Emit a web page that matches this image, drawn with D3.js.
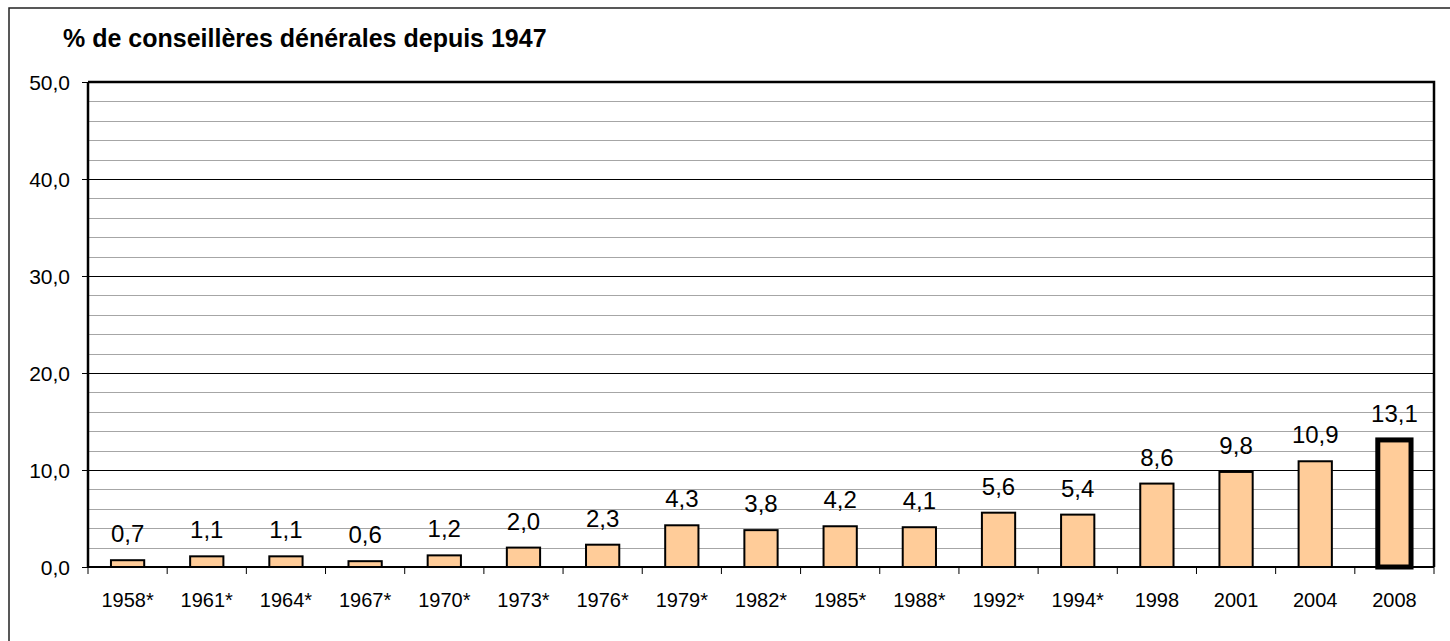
<!DOCTYPE html>
<html lang="fr">
<head>
    <meta charset="UTF-8">
    <title>Conseillères générales</title>
    <script src="https://d3js.org/d3.v7.min.js"></script>
    <style>
        body { margin: 0; background: #fff; }
        text { font-family: "Liberation Sans", Arial, sans-serif; fill: #000; }
    </style>
</head>
<body>
    <div id="chart"></div>
    <script>
        // data
        var years = ["1958*", "1961*", "1964*", "1967*", "1970*", "1973*", "1976*", "1979*", "1982*",
                     "1985*", "1988*", "1992*", "1994*", "1998", "2001", "2004", "2008"];
        var values = [0.7, 1.1, 1.1, 0.6, 1.2, 2.0, 2.3, 4.3, 3.8, 4.2, 4.1, 5.6, 5.4, 8.6, 9.8, 10.9, 13.1];
        var majorTicks = [0, 10, 20, 30, 40, 50];
        var minorTicks = [2, 4, 6, 8, 12, 14, 16, 18, 22, 24, 26, 28, 32, 34, 36, 38, 42, 44, 46, 48];
        var title = "% de conseillères dénérales depuis 1947";

        var W = 1450, H = 641;
        var margin = { top: 82, right: 16, bottom: 74, left: 88 };
        var width = W - margin.left - margin.right;
        var height = H - margin.top - margin.bottom;

        var fr = d3.formatLocale({ decimal: ",", thousands: " ", grouping: [3], currency: ["", " €"] });
        var fmt = fr.format(".1f");

        var svg = d3.select("#chart").append("svg")
            .attr("width", W)
            .attr("height", H);

        // outer frame (runs off the right and bottom edges)
        svg.append("rect")
            .attr("x", 9).attr("y", 8)
            .attr("width", W).attr("height", H)
            .attr("fill", "none")
            .attr("stroke", "#222")
            .attr("stroke-width", 1.5);

        svg.append("text")
            .attr("x", 63)
            .attr("y", 47)
            .style("font-size", "25px")
            .style("font-weight", "bold")
            .text(title);

        var g = svg.append("g")
            .attr("transform", "translate(" + margin.left + "," + margin.top + ")");

        var x = d3.scaleBand()
            .domain(years)
            .range([0, width])
            .paddingInner(0.58)
            .paddingOuter(0.29);

        var y = d3.scaleLinear()
            .domain([0, 50])
            .range([height, 0]);

        // gridlines
        g.append("g").selectAll("line").data(minorTicks).enter().append("line")
            .attr("x1", 0).attr("x2", width)
            .attr("y1", function (d) { return Math.round(y(d)) + 0.5; })
            .attr("y2", function (d) { return Math.round(y(d)) + 0.5; })
            .attr("stroke", "#a6a6a6")
            .attr("stroke-width", 1);
        g.append("g").selectAll("line").data(majorTicks.slice(1, 5)).enter().append("line")
            .attr("x1", 0).attr("x2", width)
            .attr("y1", function (d) { return Math.round(y(d)) + 0.5; })
            .attr("y2", function (d) { return Math.round(y(d)) + 0.5; })
            .attr("stroke", "#000")
            .attr("stroke-width", 1);

        // plot border top + right
        g.append("path")
            .attr("d", "M0," + y(50) + "H" + width + "V" + height)
            .attr("fill", "none")
            .attr("stroke", "#000")
            .attr("stroke-width", 2.5);

        // y axis
        var yAxis = g.append("g")
            .call(d3.axisLeft(y).tickValues(majorTicks).tickSize(6).tickFormat(fmt));
        yAxis.select(".domain").attr("stroke-width", 2.5).attr("d", "M0," + height + "V" + y(50));
        yAxis.selectAll(".tick line").attr("stroke-width", 1);
        yAxis.selectAll(".tick text")
            .attr("x", -18)
            .attr("dy", "0.36em")
            .style("font-size", "21px")
            .style("font-family", "'Liberation Sans', Arial, sans-serif");

        // bars
        g.append("g").selectAll("rect").data(values).enter().append("rect")
            .attr("x", function (d, i) { return x(years[i]); })
            .attr("y", function (d) { return y(d); })
            .attr("width", x.bandwidth())
            .attr("height", function (d) { return height - y(d); })
            .attr("fill", "#ffcc99")
            .attr("stroke", "#000")
            .attr("stroke-width", function (d, i) { return i === values.length - 1 ? 5 : 2; });

        // value labels
        g.append("g").selectAll("text").data(values).enter().append("text")
            .attr("x", function (d, i) { return x(years[i]) + x.bandwidth() / 2; })
            .attr("y", function (d) { return y(d) - 18; })
            .attr("text-anchor", "middle")
            .style("font-size", "24px")
            .text(function (d) { return fmt(d); });

        // x axis: ticks on band boundaries
        var xAxis = g.append("g")
            .attr("transform", "translate(0," + height + ")");
        xAxis.append("line")
            .attr("x1", 0).attr("x2", width)
            .attr("stroke", "#000").attr("stroke-width", 2);
        xAxis.selectAll(".sep").data(d3.range(years.length + 1)).enter().append("line")
            .attr("class", "sep")
            .attr("x1", function (i) { return i * x.step(); })
            .attr("x2", function (i) { return i * x.step(); })
            .attr("y1", 0).attr("y2", 7)
            .attr("stroke", "#000");
        xAxis.selectAll(".lbl").data(years).enter().append("text")
            .attr("class", "lbl")
            .attr("x", function (d) { return x(d) + x.bandwidth() / 2; })
            .attr("y", 40)
            .attr("text-anchor", "middle")
            .style("font-size", "20px")
            .text(function (d) { return d; });
    </script>
</body>
</html>
